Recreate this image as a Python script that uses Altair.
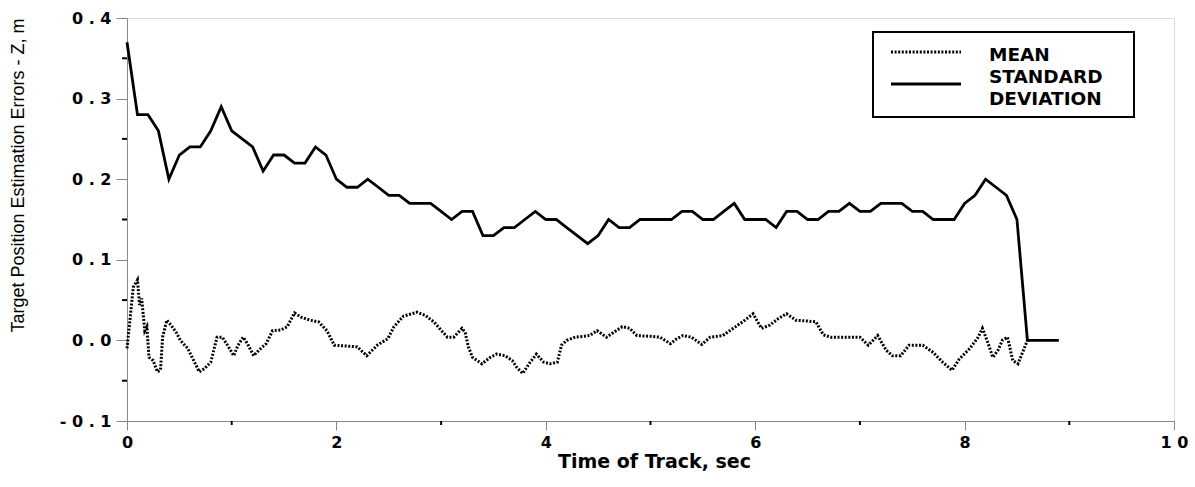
import altair as alt
import pandas as pd

# Standard deviation of the Z estimation error, sampled every 0.1 s
std_time = [0.0, 0.1, 0.2, 0.3, 0.4, 0.5, 0.6, 0.7, 0.8, 0.9,
            1.0, 1.1, 1.2, 1.3, 1.4, 1.5, 1.6, 1.7, 1.8, 1.9,
            2.0, 2.1, 2.2, 2.3, 2.4, 2.5, 2.6, 2.7, 2.8, 2.9,
            3.0, 3.1, 3.2, 3.3, 3.4, 3.5, 3.6, 3.7, 3.8, 3.9,
            4.0, 4.1, 4.2, 4.3, 4.4, 4.5, 4.6, 4.7, 4.8, 4.9,
            5.0, 5.1, 5.2, 5.3, 5.4, 5.5, 5.6, 5.7, 5.8, 5.9,
            6.0, 6.1, 6.2, 6.3, 6.4, 6.5, 6.6, 6.7, 6.8, 6.9,
            7.0, 7.1, 7.2, 7.3, 7.4, 7.5, 7.6, 7.7, 7.8, 7.9,
            8.0, 8.1, 8.2, 8.3, 8.4, 8.5, 8.6, 8.7, 8.8, 8.9]
std_value = [0.37, 0.28, 0.28, 0.26, 0.20, 0.23, 0.24, 0.24, 0.26, 0.29,
             0.26, 0.25, 0.24, 0.21, 0.23, 0.23, 0.22, 0.22, 0.24, 0.23,
             0.20, 0.19, 0.19, 0.20, 0.19, 0.18, 0.18, 0.17, 0.17, 0.17,
             0.16, 0.15, 0.16, 0.16, 0.13, 0.13, 0.14, 0.14, 0.15, 0.16,
             0.15, 0.15, 0.14, 0.13, 0.12, 0.13, 0.15, 0.14, 0.14, 0.15,
             0.15, 0.15, 0.15, 0.16, 0.16, 0.15, 0.15, 0.16, 0.17, 0.15,
             0.15, 0.15, 0.14, 0.16, 0.16, 0.15, 0.15, 0.16, 0.16, 0.17,
             0.16, 0.16, 0.17, 0.17, 0.17, 0.16, 0.16, 0.15, 0.15, 0.15,
             0.17, 0.18, 0.20, 0.19, 0.18, 0.15, 0.00, 0.00, 0.00, 0.00]

# Mean of the Z estimation error
mean_time = [0.00, 0.06, 0.10, 0.12, 0.14, 0.17, 0.19, 0.21, 0.25, 0.29,
             0.32, 0.34, 0.38, 0.42, 0.47, 0.51, 0.58, 0.63, 0.69, 0.74,
             0.80, 0.86, 0.91, 0.96, 1.02, 1.06, 1.11, 1.15, 1.21, 1.26,
             1.33, 1.39, 1.47, 1.53, 1.60, 1.66, 1.75, 1.83, 1.91, 1.98,
             2.10, 2.20, 2.29, 2.39, 2.49, 2.55, 2.64, 2.77, 2.85, 2.93,
             3.06, 3.12, 3.20, 3.23, 3.26, 3.30, 3.39, 3.47, 3.53, 3.61,
             3.68, 3.72, 3.78, 3.84, 3.91, 3.98, 4.04, 4.11, 4.15, 4.20,
             4.28, 4.36, 4.42, 4.49, 4.58, 4.65, 4.73, 4.80, 4.87, 5.00,
             5.09, 5.19, 5.25, 5.31, 5.39, 5.49, 5.57, 5.69, 5.79, 5.88,
             5.98, 6.06, 6.14, 6.22, 6.30, 6.39, 6.50, 6.58, 6.65, 6.72,
             6.89, 7.00, 7.08, 7.17, 7.25, 7.31, 7.39, 7.47, 7.60, 7.70,
             7.79, 7.88, 7.95, 8.05, 8.13, 8.17, 8.22, 8.27, 8.32, 8.36,
             8.41, 8.46, 8.51, 8.60]
mean_value = [-0.010, 0.066, 0.075, 0.044, 0.052, 0.012, 0.017, -0.021, -0.025, -0.039,
              -0.037, 0.004, 0.025, 0.019, 0.010, 0.000, -0.010, -0.023, -0.039, -0.035,
              -0.027, 0.004, 0.004, -0.006, -0.019, -0.006, 0.004, -0.004, -0.019, -0.012,
              -0.004, 0.012, 0.013, 0.017, 0.034, 0.029, 0.025, 0.023, 0.012, -0.006,
              -0.007, -0.008, -0.019, -0.006, 0.002, 0.017, 0.030, 0.035, 0.031, 0.023,
              0.004, 0.004, 0.015, 0.010, -0.008, -0.021, -0.029, -0.021, -0.017, -0.019,
              -0.025, -0.033, -0.041, -0.029, -0.017, -0.027, -0.029, -0.027, -0.006, 0.000,
              0.004, 0.005, 0.006, 0.012, 0.004, 0.010, 0.017, 0.015, 0.006, 0.005,
              0.004, -0.004, 0.002, 0.006, 0.004, -0.005, 0.004, 0.006, 0.015, 0.023,
              0.033, 0.015, 0.019, 0.027, 0.033, 0.025, 0.024, 0.023, 0.007, 0.004,
              0.004, 0.004, -0.006, 0.006, -0.012, -0.019, -0.019, -0.006, -0.006, -0.015,
              -0.027, -0.037, -0.023, -0.010, 0.004, 0.015, -0.002, -0.021, -0.012, 0.000,
              0.004, -0.025, -0.029, 0.000]

x_major = [0, 2, 4, 6, 8, 10]
x_minor = [1, 3, 5, 7, 9]
y_major = [-0.1, 0.0, 0.1, 0.2, 0.3, 0.4]
y_minor = [-0.05, 0.05, 0.15, 0.25, 0.35]
legend_labels = ["MEAN", "STANDARD", "DEVIATION"]

W, H = 1047, 403
BOLD = "DejaVu Sans"

std_df = pd.DataFrame({"t": std_time, "v": std_value})
mean_df = pd.DataFrame({"t": mean_time, "v": mean_value})

xs = alt.Scale(domain=[0, 10], nice=False, zero=False)
ys = alt.Scale(domain=[-0.1, 0.4], nice=False, zero=False)

x_axis = alt.Axis(
    values=x_major, format="d", tickSize=9, labelPadding=4, grid=False,
    labelFont=BOLD, labelFontWeight="bold", labelFontSize=16,
    labelExpr="datum.value == 10 ? '1 0' : datum.label",
    title="Time of Track, sec", titleFont=BOLD, titleFontWeight="bold",
    titleFontSize=19, titleX=527, titleY=46, titleBaseline="alphabetic",
    labelFlush=False,
)
y_axis = alt.Axis(
    values=y_major, format=".1f", tickSize=11, labelPadding=5, grid=False,
    labelFont=BOLD, labelFontWeight="bold", labelFontSize=16,
    labelExpr="replace(replace(replace(datum.label, '.', ' . '), '\u2212', '- '), '-0', '- 0')",
    title="Target Position Estimation Errors - Z, m", titleFont="Liberation Sans",
    titleFontWeight="normal", titleFontSize=18, titleAngle=-90,
    titleX=-109, titleY=157, titleAlign="center", titleBaseline="middle",
    labelFlush=False,
)

X = alt.X("t:Q", scale=xs, axis=x_axis)
Y = alt.Y("v:Q", scale=ys, axis=y_axis)

std_line = alt.Chart(std_df).mark_line(color="black", strokeWidth=2.8).encode(x=X, y=Y)
mean_line = alt.Chart(mean_df).mark_line(
    color="black", strokeWidth=3, strokeDash=[2, 1.6]
).encode(x=X, y=Y)

x_minor_ticks = alt.Chart(pd.DataFrame({"t": x_minor})).mark_rule(
    color="black", strokeWidth=2
).encode(x=X, y=alt.value(H), y2=alt.value(H + 4))
y_minor_ticks = alt.Chart(pd.DataFrame({"v": y_minor})).mark_rule(
    color="black", strokeWidth=2
).encode(y=Y, x=alt.value(-5), x2=alt.value(0))

one = pd.DataFrame({"k": [0]})
legend_box = alt.Chart(one).mark_rect(
    fill="white", stroke="black", strokeWidth=2
).encode(x=alt.value(746), x2=alt.value(1007), y=alt.value(14), y2=alt.value(99))
legend_mean = alt.Chart(one).mark_rule(
    color="black", strokeWidth=3, strokeDash=[2, 1.6]
).encode(x=alt.value(764), x2=alt.value(834), y=alt.value(34))
legend_std = alt.Chart(one).mark_rule(color="black", strokeWidth=2.8).encode(
    x=alt.value(764), x2=alt.value(834), y=alt.value(66)
)

# One text layer per legend line, stacked downward inside the box
legend_rows = [
    alt.Chart(one).mark_text(
        align="left", baseline="middle", font=BOLD, fontWeight="bold",
        fontSize=18.5, color="black",
    ).encode(x=alt.value(862), y=alt.value(37 + 22 * i), text=alt.value(label))
    for i, label in enumerate(legend_labels)
]

chart = alt.layer(
    std_line, mean_line, x_minor_ticks, y_minor_ticks,
    legend_box, legend_mean, legend_std, *legend_rows,
).properties(
    width=W, height=H,
    autosize=alt.AutoSizeParams(type="none"),
    padding={"left": 127, "top": 18, "right": 21, "bottom": 66},
).configure_view(
    stroke="black", strokeWidth=2
).configure_axis(
    grid=False, domainColor="black", domainWidth=2.5, tickColor="black",
    tickWidth=2, labelColor="black", titleColor="black",
).configure(background="white")

chart.save("out.html", embed_options={"renderer": "svg", "actions": False})
